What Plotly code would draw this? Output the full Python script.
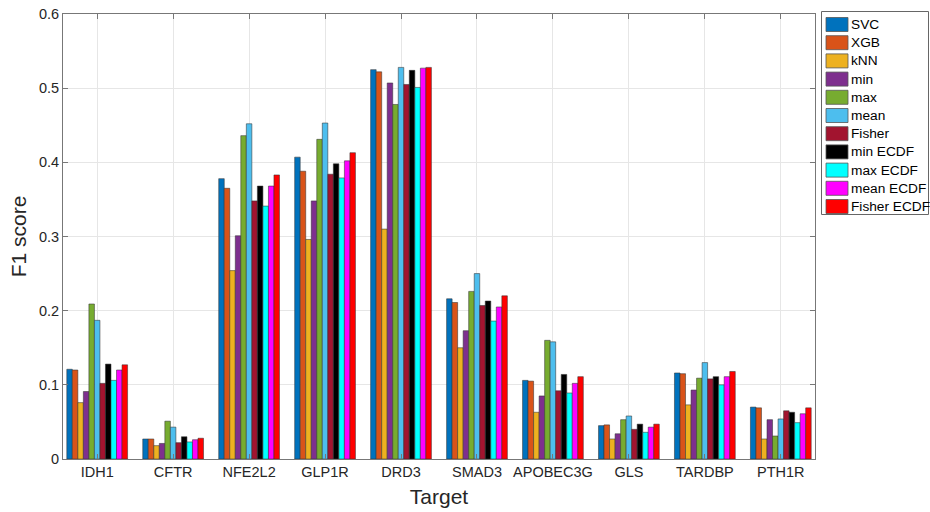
import plotly.graph_objects as go

targets = ["IDH1", "CFTR", "NFE2L2", "GLP1R", "DRD3", "SMAD3", "APOBEC3G", "GLS", "TARDBP", "PTH1R"]

methods = ["SVC", "XGB", "kNN", "min", "max", "mean", "Fisher",
           "min ECDF", "max ECDF", "mean ECDF", "Fisher ECDF"]

colors = ["#0072BD", "#D95319", "#EDB120", "#7E2F8E", "#77AC30", "#4DBEEE",
          "#A2142F", "#000000", "#00FFFF", "#FF00FF", "#FF0000"]

svc = [0.121, 0.027, 0.378, 0.407, 0.525, 0.216, 0.106, 0.045, 0.116, 0.070]
xgb = [0.120, 0.027, 0.365, 0.388, 0.522, 0.211, 0.105, 0.046, 0.115, 0.069]
knn = [0.076, 0.018, 0.254, 0.296, 0.310, 0.150, 0.063, 0.027, 0.073, 0.027]
mn = [0.091, 0.021, 0.301, 0.348, 0.507, 0.173, 0.085, 0.034, 0.093, 0.053]
mx = [0.209, 0.051, 0.436, 0.431, 0.478, 0.226, 0.160, 0.053, 0.109, 0.031]
mean = [0.187, 0.043, 0.452, 0.453, 0.528, 0.250, 0.158, 0.058, 0.130, 0.054]
fisher = [0.102, 0.022, 0.348, 0.384, 0.505, 0.207, 0.092, 0.040, 0.108, 0.065]
min_ecdf = [0.128, 0.030, 0.368, 0.398, 0.524, 0.213, 0.114, 0.047, 0.111, 0.063]
max_ecdf = [0.106, 0.023, 0.341, 0.379, 0.501, 0.186, 0.089, 0.036, 0.100, 0.049]
mean_ecdf = [0.120, 0.026, 0.368, 0.402, 0.527, 0.205, 0.102, 0.043, 0.111, 0.061]
fisher_ecdf = [0.127, 0.028, 0.383, 0.413, 0.528, 0.220, 0.111, 0.047, 0.118, 0.069]

series = [svc, xgb, knn, mn, mx, mean, fisher, min_ecdf, max_ecdf, mean_ecdf, fisher_ecdf]

y_ticks = [0, 0.1, 0.2, 0.3, 0.4, 0.5, 0.6]
y_tick_labels = ["0", "0.1", "0.2", "0.3", "0.4", "0.5", "0.6"]

xpos = list(range(len(targets)))

W, H = 930, 512
PL, PR, PT, PB = 63, 815, 14, 459          # plot area in page pixels
ML, MR, MT, MB = PL, W - PR, PT, H - PB
PW = PR - PL
PH = PB - PT


def px_x(px):
    return (px - PL) / PW


def px_y(py):
    return (PB - py) / PH


fig = go.Figure()
for name, vals, col in zip(methods, series, colors):
    fig.add_trace(go.Bar(
        x=xpos, y=vals, name=name,
        marker=dict(color=col, line=dict(color="rgba(50,50,50,0.9)", width=0.6)),
        showlegend=False,
    ))

font_family = "Liberation Sans, Arial, sans-serif"

# Hand-drawn legend box (MATLAB style)
shapes = [dict(type="rect", xref="paper", yref="paper",
               x0=px_x(821.5), x1=px_x(928.5), y0=px_y(214.5), y1=px_y(11.5),
               line=dict(color="#666666", width=1), fillcolor="white", layer="above")]
annotations = []
row0, step = 24.5, 18.2
for i, (name, col) in enumerate(zip(methods, colors)):
    cy = row0 + step * i
    shapes.append(dict(type="rect", xref="paper", yref="paper",
                       x0=px_x(826), x1=px_x(848), y0=px_y(cy + 7), y1=px_y(cy - 7),
                       line=dict(color="#555555", width=0.8), fillcolor=col, layer="above"))
    annotations.append(dict(xref="paper", yref="paper", x=px_x(849), y=px_y(cy),
                            xanchor="left", yanchor="middle", showarrow=False,
                            text=name, font=dict(family=font_family, size=13.7, color="#000000")))

fig.update_layout(
    width=W, height=H,
    margin=dict(l=ML, r=MR, t=MT, b=MB, autoexpand=False),
    paper_bgcolor="white", plot_bgcolor="white",
    barmode="group", bargap=0.2, bargroupgap=0.0,
    font=dict(family=font_family, size=14, color="#262626"),
    showlegend=False,
    shapes=shapes,
    annotations=annotations,
    xaxis=dict(
        tickmode="array", tickvals=xpos, ticktext=targets,
        range=[-0.45, 9.45],
        showgrid=True, gridcolor="#e6e6e6", gridwidth=1,
        ticks="inside", ticklen=5, tickcolor="#777777",
        showline=True, linecolor="#777777", linewidth=1, mirror="ticks",
        tickfont=dict(size=14.5, color="#262626"),
        ticklabeloverflow="allow",
        title=dict(text="Target", font=dict(size=21, color="#262626"), standoff=9),
        zeroline=False,
    ),
    yaxis=dict(
        tickmode="array", tickvals=y_ticks, ticktext=y_tick_labels,
        range=[0, 0.6],
        showgrid=True, gridcolor="#e6e6e6", gridwidth=1,
        ticks="inside", ticklen=5, tickcolor="#777777",
        showline=True, linecolor="#777777", linewidth=1, mirror="ticks",
        tickfont=dict(size=14.5, color="#262626"),
        ticklabeloverflow="allow",
        title=dict(text="F1 score", font=dict(size=21, color="#262626"), standoff=6),
        zeroline=False,
    ),
)

# Remove the default 8px page margin so the figure sits at the window's corner.
fig.write_html("out.html", config={"staticPlot": True, "displayModeBar": False},
               post_script="document.body.style.margin='0';")
